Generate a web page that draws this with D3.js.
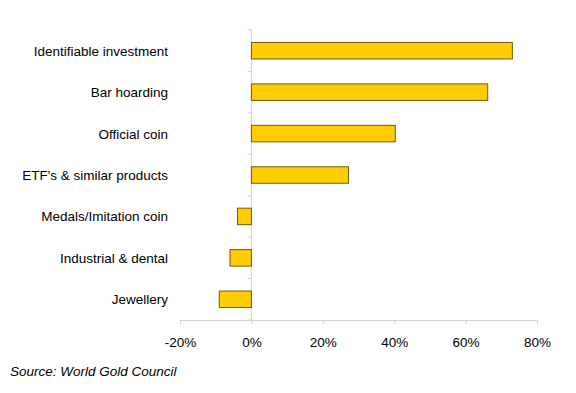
<!DOCTYPE html>
<html><head><meta charset="utf-8">
<script src="https://cdn.jsdelivr.net/npm/d3@7"></script>
<style>body{margin:0;background:#fff}svg{display:block}text{font-family:"Liberation Sans",Arial,sans-serif}</style>
</head><body><svg id="c" width="576" height="393"></svg>
<script>
const categories = ["Identifiable investment","Bar hoarding","Official coin","ETF's & similar products","Medals/Imitation coin","Industrial & dental","Jewellery"];
const values = [73.1, 66.2, 40.3, 27.2, -3.9, -6.0, -9.0];
const tickValues = [-20, 0, 20, 40, 60, 80];
const source = "Source: World Gold Council";

const svg = d3.select("#c");
const x = d3.scaleLinear().domain([-20, 80]).range([180, 537]);
const y = d3.scaleBand().domain(categories).range([30, 320]);
const axisColor = "#d4d4d4";
const fs = 13.5;

// x axis
const xa = svg.append("g").attr("transform","translate(0,320)")
  .call(d3.axisBottom(x).tickValues(tickValues).tickSize(4).tickPadding(13).tickFormat(d => d + "%"));
xa.selectAll("path,line").attr("stroke", axisColor);
xa.selectAll("text").attr("font-size", fs).attr("fill","#000");

// y axis at zero
svg.append("line").attr("x1", x(0)).attr("x2", x(0)).attr("y1", 30).attr("y2", 320).attr("stroke", axisColor);
svg.append("g").selectAll("line").data(d3.range(categories.length + 1)).join("line")
  .attr("x1", x(0) - 4).attr("x2", x(0))
  .attr("y1", i => 30 + i * y.step()).attr("y2", i => 30 + i * y.step())
  .attr("stroke", axisColor);

// labels
svg.append("g").selectAll("text").data(categories).join("text")
  .attr("x", 168).attr("y", d => y(d) + y.bandwidth() / 2 + 5)
  .attr("text-anchor","end").attr("font-size", fs).attr("fill","#000").text(d => d);

// bars
const bh = 16.5;
svg.append("g").selectAll("rect").data(values).join("rect")
  .attr("x", d => x(Math.min(0, d)))
  .attr("y", (d, i) => y(categories[i]) + y.bandwidth() / 2 - bh / 2)
  .attr("width", d => Math.abs(x(d) - x(0)))
  .attr("height", bh)
  .attr("fill", "#ffcc00").attr("stroke", "#6e5c0a").attr("stroke-width", 1);

svg.append("text").attr("x", 10).attr("y", 376).attr("font-size", fs)
  .attr("font-style","italic").attr("fill","#000").text(source);
</script></body></html>
